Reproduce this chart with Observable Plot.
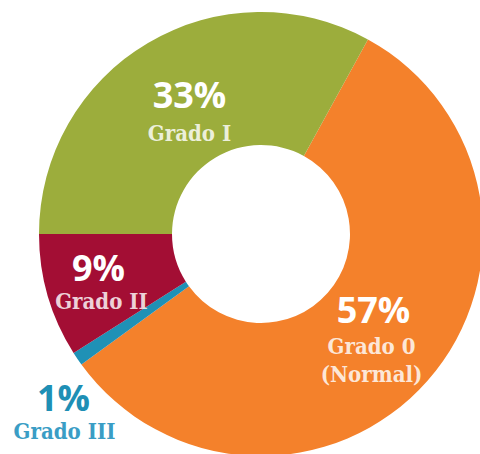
<!DOCTYPE html>
<html>
<head>
<meta charset="utf-8">
<script src="https://cdn.jsdelivr.net/npm/d3@7"></script>
<script src="https://cdn.jsdelivr.net/npm/@observablehq/plot@0.6"></script>
<style>
  html, body { margin: 0; padding: 0; background: #fff; }
  #chart { width: 480px; height: 454px; overflow: hidden; }
  .names text { font-stretch: condensed; }
</style>
</head>
<body>
<div id="chart"></div>
<script>
// ---- data ----
const categories = ["Grado 0 (Normal)", "Grado III", "Grado II", "Grado I"];
const values = [57, 1, 9, 33];
const pctLabels = ["57%", "1%", "9%", "33%"];
const nameLabels = ["Grado 0\n(Normal)", "Grado III", "Grado II", "Grado I"];
const sliceColors = ["#F4812B", "#1F91B6", "#A30E34", "#9CAD3C"];

// ---- layout (not data) ----
const W = 480, H = 454;
const outerR = 222, innerR = 89;
const startDeg = 28.8;
// label anchors in chart units (center of donut = 0,0, y up)
const pctPos = [[112, -88], [-198, -176], [-163, -46], [-72, 127]];
const namePos = [[110, -147], [-197, -204], [-160, -74], [-72, 94]];
const pctFill = ["#fff", "#1E8FB5", "#fff", "#fff"];
const nameFill = ["rgba(255,255,255,0.82)", "#3A9DC5", "rgba(255,255,255,0.82)", "rgba(255,255,255,0.82)"];

const color = Plot.scale({color: {type: "ordinal", domain: categories, range: sliceColors}});

const slices = d3.pie().sort(null)
  .startAngle(startDeg * Math.PI / 180)
  .endAngle(startDeg * Math.PI / 180 + 2 * Math.PI)(values)
  .map((a, i) => ({...a, category: categories[i]}));

const labels = categories.map((c, i) => ({
  category: c, pct: pctLabels[i], name: nameLabels[i],
  px: pctPos[i][0], py: pctPos[i][1], nx: namePos[i][0], ny: namePos[i][1],
  pf: pctFill[i], nf: nameFill[i]
}));

function donut(index, scales) {
  const cx = scales.x(0), cy = scales.y(0);
  const ro = scales.x(outerR) - cx, ri = scales.x(innerR) - cx;
  const arc = d3.arc().innerRadius(ri).outerRadius(ro);
  const g = d3.create("svg:g").attr("transform", `translate(${cx},${cy})`);
  g.selectAll("path").data(slices).join("path")
    .attr("d", arc)
    .attr("fill", d => color.apply(d.category));
  return g.node();
}

const plot = Plot.plot({
  width: W, height: H,
  margin: 0,
  x: {domain: [-261, 219], axis: null},
  y: {domain: [-220, 234], axis: null},
  marks: [
    donut,
    Plot.text(labels, {x: "px", y: "py", text: "pct", fill: "pf", lineAnchor: "bottom",
      fontSize: 36, fontWeight: 700, fontFamily: "'Open Sans', sans-serif", textAnchor: "middle"}),
    Plot.text(labels, {x: "nx", y: "ny", text: "name", fill: "nf", lineAnchor: "bottom", className: "names",
      fontSize: 22, fontWeight: 700, lineHeight: 1.25, fontFamily: "'DejaVu Serif Condensed', 'DejaVu Serif', serif", textAnchor: "middle"})
  ]
});
document.getElementById("chart").appendChild(plot);
</script>
</body>
</html>
